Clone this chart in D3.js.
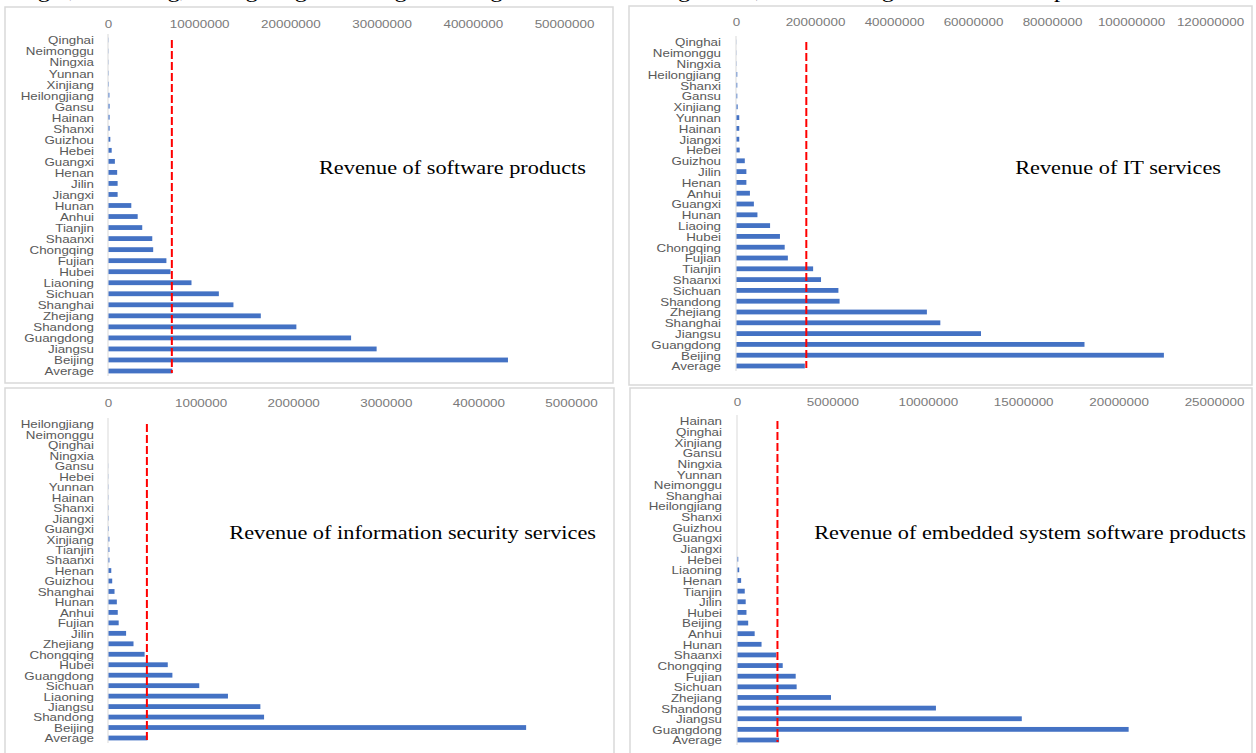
<!DOCTYPE html>
<html>
<head>
<meta charset="utf-8">
<script src="https://cdn.jsdelivr.net/npm/d3@7/dist/d3.min.js"></script>
<style>
  html, body { margin: 0; padding: 0; background: #ffffff; overflow: hidden; }
  svg { display: block; }
</style>
</head>
<body>
<svg id="chart" width="1256" height="753"></svg>
<script>
// ---------- DATA ----------
// Panel 1: Revenue of software products
const swCategories = ["Qinghai","Neimonggu","Ningxia","Yunnan","Xinjiang","Heilongjiang","Gansu","Hainan","Shanxi","Guizhou","Hebei","Guangxi","Henan","Jilin","Jiangxi","Hunan","Anhui","Tianjin","Shaanxi","Chongqing","Fujian","Hubei","Liaoning","Sichuan","Shanghai","Zhejiang","Shandong","Guangdong","Jiangsu","Beijing","Average"];
const swValues = [20000,20000,20000,30000,40000,100000,120000,120000,120000,200000,350000,700000,950000,1000000,1000000,2500000,3200000,3700000,4800000,4900000,6350000,6800000,9100000,12100000,13700000,16700000,20600000,26600000,29400000,43800000,7000000];
const swAverageLine = 7000000;
const swTicks = [0,10000000,20000000,30000000,40000000,50000000];

// Panel 2: Revenue of IT services
const itCategories = ["Qinghai","Neimonggu","Ningxia","Heilongjiang","Shanxi","Gansu","Xinjiang","Yunnan","Hainan","Jiangxi","Hebei","Guizhou","Jilin","Henan","Anhui","Guangxi","Hunan","Liaoing","Hubei","Chongqing","Fujian","Tianjin","Shaanxi","Sichuan","Shandong","Zhejiang","Shanghai","Jiangsu","Guangdong","Beijing","Average"];
const itValues = [30000,40000,50000,200000,200000,200000,300000,700000,700000,700000,800000,2100000,2500000,2500000,3400000,4400000,5300000,8500000,11000000,12200000,13000000,19400000,21400000,25800000,26100000,48200000,51600000,61900000,88100000,108200000,17300000];
const itAverageLine = 17800000;
const itTicks = [0,20000000,40000000,60000000,80000000,100000000,120000000];

// Panel 3: Revenue of information security services
const secCategories = ["Heilongjiang","Neimonggu","Qinghai","Ningxia","Gansu","Hebei","Yunnan","Hainan","Shanxi","Jiangxi","Guangxi","Xinjiang","Tianjin","Shaanxi","Henan","Guizhou","Shanghai","Hunan","Anhui","Fujian","Jilin","Zhejiang","Chongqing","Hubei","Guangdong","Sichuan","Liaoning","Jiangsu","Shandong","Beijing","Average"];
const secValues = [0,0,0,0,1000,1500,2000,2000,2500,3000,4000,10000,10000,10000,30000,40000,65000,90000,100000,110000,190000,270000,390000,640000,690000,980000,1290000,1640000,1680000,4510000,420000];
const secAverageLine = 420000;
const secTicks = [0,1000000,2000000,3000000,4000000,5000000];

// Panel 4: Revenue of embedded system software products
const embCategories = ["Hainan","Qinghai","Xinjiang","Gansu","Ningxia","Yunnan","Neimonggu","Shanghai","Heilongjiang","Shanxi","Guizhou","Guangxi","Jiangxi","Hebei","Liaoning","Henan","Tianjin","Jilin","Hubei","Beijing","Anhui","Hunan","Shaanxi","Chongqing","Fujian","Sichuan","Zhejiang","Shandong","Jiangsu","Guangdong","Average"];
const embValues = [0,0,0,0,0,0,0,0,0,0,0,0,0,40000,90000,190000,380000,430000,470000,560000,900000,1260000,2030000,2370000,3050000,3100000,4900000,10400000,14900000,20500000,2180000];
const embAverageLine = 2120000;
const embTicks = [0,5000000,10000000,15000000,20000000,25000000];

const titles = ["Revenue of software products","Revenue of IT services","Revenue of information security services","Revenue of embedded system software products"];
const fragmentText = "Jiangxi, Shandong, Guangdong and Jiangsu are higher than the average level, while Guangxi and the other provinces are lower";

// ---------- LAYOUT ----------
const svg = d3.select("#chart");
const BAR = "#4472C4", GRID = "#D9D9D9", LABEL = "#595959";
const SANS = "'Liberation Sans', Arial, sans-serif";
const SERIF = "'Liberation Serif', 'Times New Roman', serif";

// cropped line of running text at the very top of the page (only descenders visible)
svg.append("text")
  .attr("x", -2).attr("y", -3)
  .attr("font-family", SERIF).attr("font-size", 22).attr("fill", "#000")
  .attr("textLength", 1250).attr("lengthAdjust", "spacingAndGlyphs")
  .text(fragmentText);

const panels = [
  {cats: swCategories, vals: swValues, avg: swAverageLine, ticks: swTicks, title: titles[0],
   box: [5, 7, 613, 383], x: [108, 564], y: [40, 371], tickY: 24, labelX: 94, titleX: 586, titleY: 168},
  {cats: itCategories, vals: itValues, avg: itAverageLine, ticks: itTicks, title: titles[1],
   box: [629, 6, 1252, 385], x: [736, 1210], y: [42, 366], tickY: 22, labelX: 721, titleX: 1221, titleY: 168},
  {cats: secCategories, vals: secValues, avg: secAverageLine, ticks: secTicks, title: titles[2],
   box: [5, 388, 614, 770], x: [108, 571], y: [424, 738], tickY: 403, labelX: 94, titleX: 596, titleY: 533},
  {cats: embCategories, vals: embValues, avg: embAverageLine, ticks: embTicks, title: titles[3],
   box: [630, 388, 1252, 770], x: [737, 1214], y: [421, 740], tickY: 402, labelX: 722, titleX: 1246, titleY: 533}
];

panels.forEach(p => {
  const g = svg.append("g");
  // panel frame
  g.append("rect")
    .attr("x", p.box[0]).attr("y", p.box[1])
    .attr("width", p.box[2] - p.box[0]).attr("height", p.box[3] - p.box[1])
    .attr("fill", "#fff").attr("stroke", GRID).attr("stroke-width", 1.5);

  const x = d3.scaleLinear().domain([0, p.ticks[p.ticks.length - 1]]).range(p.x);
  const y = d3.scalePoint().domain(p.cats).range(p.y);

  // top value axis (labels only)
  const xa = g.append("g").attr("transform", `translate(0,${p.tickY})`)
    .call(d3.axisTop(x).tickValues(p.ticks).tickSize(0).tickPadding(0).tickFormat(d3.format("d")));
  xa.select(".domain").remove();
  xa.selectAll("text")
    .attr("dy", "0.35em").attr("y", 0)
    .attr("font-family", SANS).attr("font-size", 10.5).attr("fill", "#7a7a7a")
    .attr("transform", "scale(1.28,1)");

  // category axis (labels only)
  const ya = g.append("g").attr("transform", `translate(${p.labelX},0)`)
    .call(d3.axisLeft(y).tickSize(0).tickPadding(0));
  ya.select(".domain").remove();
  ya.selectAll("text")
    .attr("x", 0).attr("dy", "0.34em")
    .attr("font-family", SANS).attr("font-size", 11.5).attr("fill", LABEL)
    .attr("transform", "scale(1.16,1)");

  // vertical baseline
  g.append("line")
    .attr("x1", x(0)).attr("x2", x(0))
    .attr("y1", p.y[0] - 6).attr("y2", p.y[1] + 5)
    .attr("stroke", GRID).attr("stroke-width", 1);

  // bars
  const bh = 4.8;
  g.selectAll("rect.bar").data(p.cats.map((c, i) => ({c, v: p.vals[i]})))
    .join("rect").attr("class", "bar")
    .attr("x", x(0) + 0.5)
    .attr("y", d => y(d.c) - bh / 2)
    .attr("width", d => Math.max(0, x(d.v) - x(0)))
    .attr("height", bh)
    .attr("fill", BAR);

  // average dashed line
  g.append("line")
    .attr("x1", x(p.avg)).attr("x2", x(p.avg))
    .attr("y1", y(p.cats[0])).attr("y2", y(p.cats[p.cats.length - 1]) + 2)
    .attr("stroke", "#FF0000").attr("stroke-width", 2)
    .attr("stroke-dasharray", "8,3");

  // title
  g.append("text")
    .attr("transform", `translate(${p.titleX},${p.titleY}) scale(1.24,1)`)
    .attr("text-anchor", "end").attr("dy", "0.35em")
    .attr("font-family", SERIF).attr("font-size", 18).attr("fill", "#000")
    .text(p.title);
});
</script>
</body>
</html>
